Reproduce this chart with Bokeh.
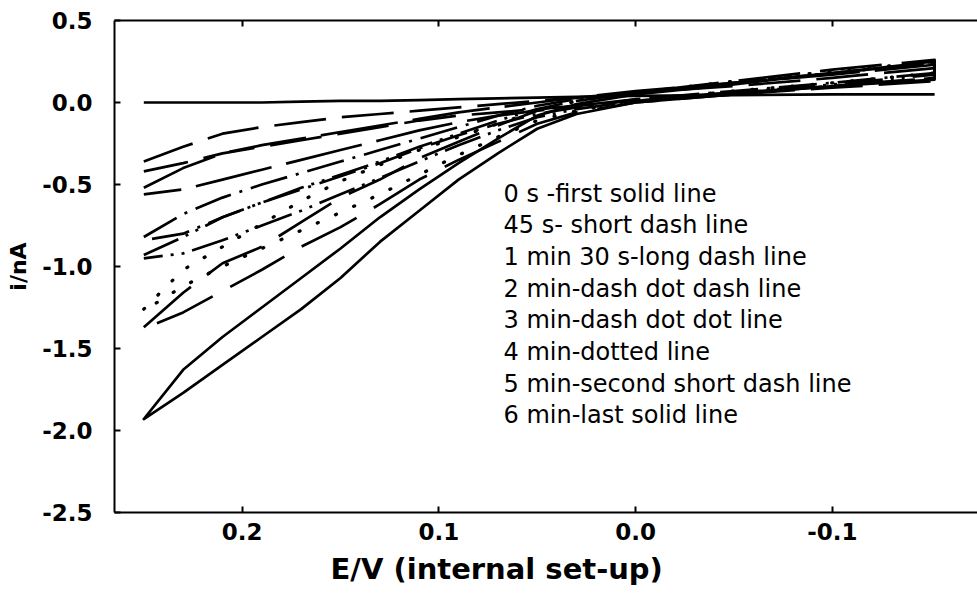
from bokeh.plotting import figure
from bokeh.models import Range1d, FixedTicker, PrintfTickFormatter, LinearAxis, Label, Title
from bokeh.embed import file_html
from bokeh.resources import INLINE

# ---------------- data ----------------
E = [0.25, 0.23, 0.21, 0.19, 0.17, 0.15, 0.13, 0.11, 0.09, 0.07, 0.05, 0.03, 0.0, -0.05, -0.10, -0.152]

i_0s = [0.0, 0.0, 0.0, 0.0, 0.005, 0.01, 0.01, 0.015, 0.02, 0.025, 0.03, 0.035, 0.04, 0.045, 0.05, 0.05]

i_45s_up = [-0.36, -0.27, -0.19, -0.15, -0.12, -0.09, -0.07, -0.05, -0.03, -0.01, 0.01, 0.03, 0.06, 0.10, 0.15, 0.21]
i_45s_dn = [-0.42, -0.37, -0.31, -0.27, -0.23, -0.19, -0.15, -0.11, -0.08, -0.06, -0.04, -0.02, 0.01, 0.05, 0.09, 0.13]

i_90s_up = [-0.52, -0.40, -0.31, -0.26, -0.22, -0.18, -0.14, -0.10, -0.06, -0.03, 0.00, 0.03, 0.07, 0.12, 0.17, 0.23]
i_90s_dn = [-0.56, -0.53, -0.47, -0.41, -0.35, -0.29, -0.23, -0.17, -0.12, -0.08, -0.05, -0.02, 0.02, 0.06, 0.10, 0.15]

i_2m_up = [-0.82, -0.68, -0.58, -0.50, -0.43, -0.36, -0.29, -0.22, -0.15, -0.08, -0.02, 0.02, 0.06, 0.12, 0.18, 0.24]
i_2m_dn = [-0.84, -0.80, -0.70, -0.61, -0.53, -0.45, -0.37, -0.28, -0.20, -0.13, -0.07, -0.03, 0.02, 0.07, 0.12, 0.18]

i_3m_up = [-0.93, -0.82, -0.70, -0.61, -0.52, -0.44, -0.36, -0.27, -0.19, -0.11, -0.04, 0.01, 0.06, 0.12, 0.18, 0.24]
i_3m_dn = [-0.95, -0.92, -0.84, -0.75, -0.66, -0.56, -0.46, -0.36, -0.26, -0.17, -0.09, -0.04, 0.01, 0.06, 0.11, 0.17]

i_4m_up = [-1.26, -1.02, -0.88, -0.74, -0.60, -0.48, -0.38, -0.29, -0.21, -0.13, -0.05, 0.01, 0.06, 0.13, 0.19, 0.25]
i_4m_dn = [-1.27, -1.12, -1.00, -0.89, -0.78, -0.67, -0.56, -0.44, -0.32, -0.21, -0.11, -0.05, 0.01, 0.07, 0.12, 0.18]

i_5m_up = [-1.37, -1.16, -0.98, -0.88, -0.73, -0.58, -0.47, -0.34, -0.24, -0.14, -0.05, 0.01, 0.06, 0.13, 0.20, 0.26]
i_5m_dn = [-1.38, -1.28, -1.15, -1.02, -0.88, -0.76, -0.62, -0.47, -0.35, -0.24, -0.13, -0.06, 0.00, 0.05, 0.10, 0.15]

i_6m_up = [-1.93, -1.63, -1.43, -1.25, -1.07, -0.89, -0.70, -0.53, -0.37, -0.22, -0.08, -0.01, 0.05, 0.11, 0.18, 0.25]
i_6m_dn = [-1.93, -1.77, -1.60, -1.43, -1.26, -1.07, -0.85, -0.66, -0.47, -0.31, -0.16, -0.07, 0.00, 0.05, 0.10, 0.14]

legend_lines = [
    "0 s -first solid line",
    "45 s- short dash line",
    "1 min 30 s-long dash line",
    "2 min-dash dot dash line",
    "3 min-dash dot dot line",
    "4 min-dotted line",
    "5 min-second short dash line",
    "6 min-last solid line",
]

y_ticks = [0.5, 0.0, -0.5, -1.0, -1.5, -2.0, -2.5]
x_ticks = [0.2, 0.1, 0.0, -0.1]

x_title = "E/V (internal set-up)"
y_title = "i/nA"

# ---------------- layout ----------------
W, H = 977, 601
FL, FT, FB = 114, 20, 512          # frame left / top / bottom in px
FR = W                              # frame runs to the window edge
X_LEFT, X_RIGHT = 0.2649, -0.1738
Y_TOP, Y_BOT = 0.5, -2.5

def xd(px):
    return X_LEFT + (px - FL) * (X_RIGHT - X_LEFT) / (FR - FL)

def yd(py):
    return Y_TOP - (py - FT) * (Y_TOP - Y_BOT) / (FB - FT)

p = figure(width=W, height=H, output_backend="svg", toolbar_location=None,
           x_range=Range1d(X_LEFT, X_RIGHT), y_range=Range1d(Y_BOT, Y_TOP),
           x_axis_location=None, y_axis_location=None,
           min_border_left=FL, min_border_right=0, min_border_top=FT,
           min_border_bottom=H - FB)
p.outline_line_color = None
p.xgrid.visible = False
p.ygrid.visible = False
p.background_fill_color = "white"
p.border_fill_color = "white"

FONT = "DejaVu Sans"

def style_axis(ax):
    ax.axis_line_width = 2
    ax.axis_line_color = "black"
    ax.major_tick_in = 6
    ax.major_tick_out = 0
    ax.major_tick_line_width = 2
    ax.minor_tick_line_color = None
    ax.major_label_text_font = FONT
    ax.major_label_text_font_style = "bold"
    ax.major_label_text_font_size = "23px"
    ax.major_label_text_color = "black"
    ax.axis_label_text_font = FONT
    ax.axis_label_text_font_style = "bold"
    ax.axis_label_text_color = "black"

xb = LinearAxis(ticker=FixedTicker(ticks=x_ticks), formatter=PrintfTickFormatter(format="%.1f"))
style_axis(xb)
xb.major_label_standoff = 10
p.add_layout(xb, "below")

xt = LinearAxis(ticker=FixedTicker(ticks=x_ticks))
style_axis(xt)
xt.major_label_text_color = None
xt.major_label_text_font_size = "1px"
xt.major_label_standoff = 0
p.add_layout(xt, "above")

yl = LinearAxis(ticker=FixedTicker(ticks=y_ticks), formatter=PrintfTickFormatter(format="%.1f"))
style_axis(yl)
yl.major_label_standoff = 22
yl.axis_label = y_title
yl.axis_label_text_font_size = "22px"
yl.axis_label_standoff = 8
p.add_layout(yl, "left")

# x-axis title, placed left of centre as in the reference
p.add_layout(Title(text=x_title, align="left", offset=216, standoff=14,
                   text_font=FONT, text_font_style="bold",
                   text_font_size="29px", text_color="black"), "below")

# ---------------- curves ----------------
def loop(up, dn):
    xs = list(E) + list(reversed(E))
    ys = list(up) + list(reversed(dn))
    return xs, ys

LW = 2.7
p.line(E, i_0s, line_color="black", line_width=LW)

styles = [
    (i_45s_up, i_45s_dn, "52 16", "butt", LW),
    (i_90s_up, i_90s_dn, "78 15", "butt", LW),
    (i_2m_up, i_2m_dn, "38 9 3 9", "butt", LW),
    (i_3m_up, i_3m_dn, "38 8 3 8 3 8", "butt", LW),
    (i_4m_up, i_4m_dn, "1 19", "round", 3.3),
    (i_5m_up, i_5m_dn, "62 20", "butt", LW),
    (i_6m_up, i_6m_dn, "solid", "round", LW),
]
for up, dn, dash, cap, lw in styles:
    xs, ys = loop(up, dn)
    p.line(xs, ys, line_color="black", line_width=lw, line_dash=dash,
           line_cap=cap, line_join="round")

# ---------------- legend text ----------------
for k, t in enumerate(legend_lines):
    p.add_layout(Label(x=xd(503), y=yd(193 + 31.7 * k), text=t,
                       text_align="left", text_baseline="middle",
                       text_font=FONT, text_font_size="24px",
                       text_color="black"))

open("out.html", "w").write(file_html(p, INLINE))
